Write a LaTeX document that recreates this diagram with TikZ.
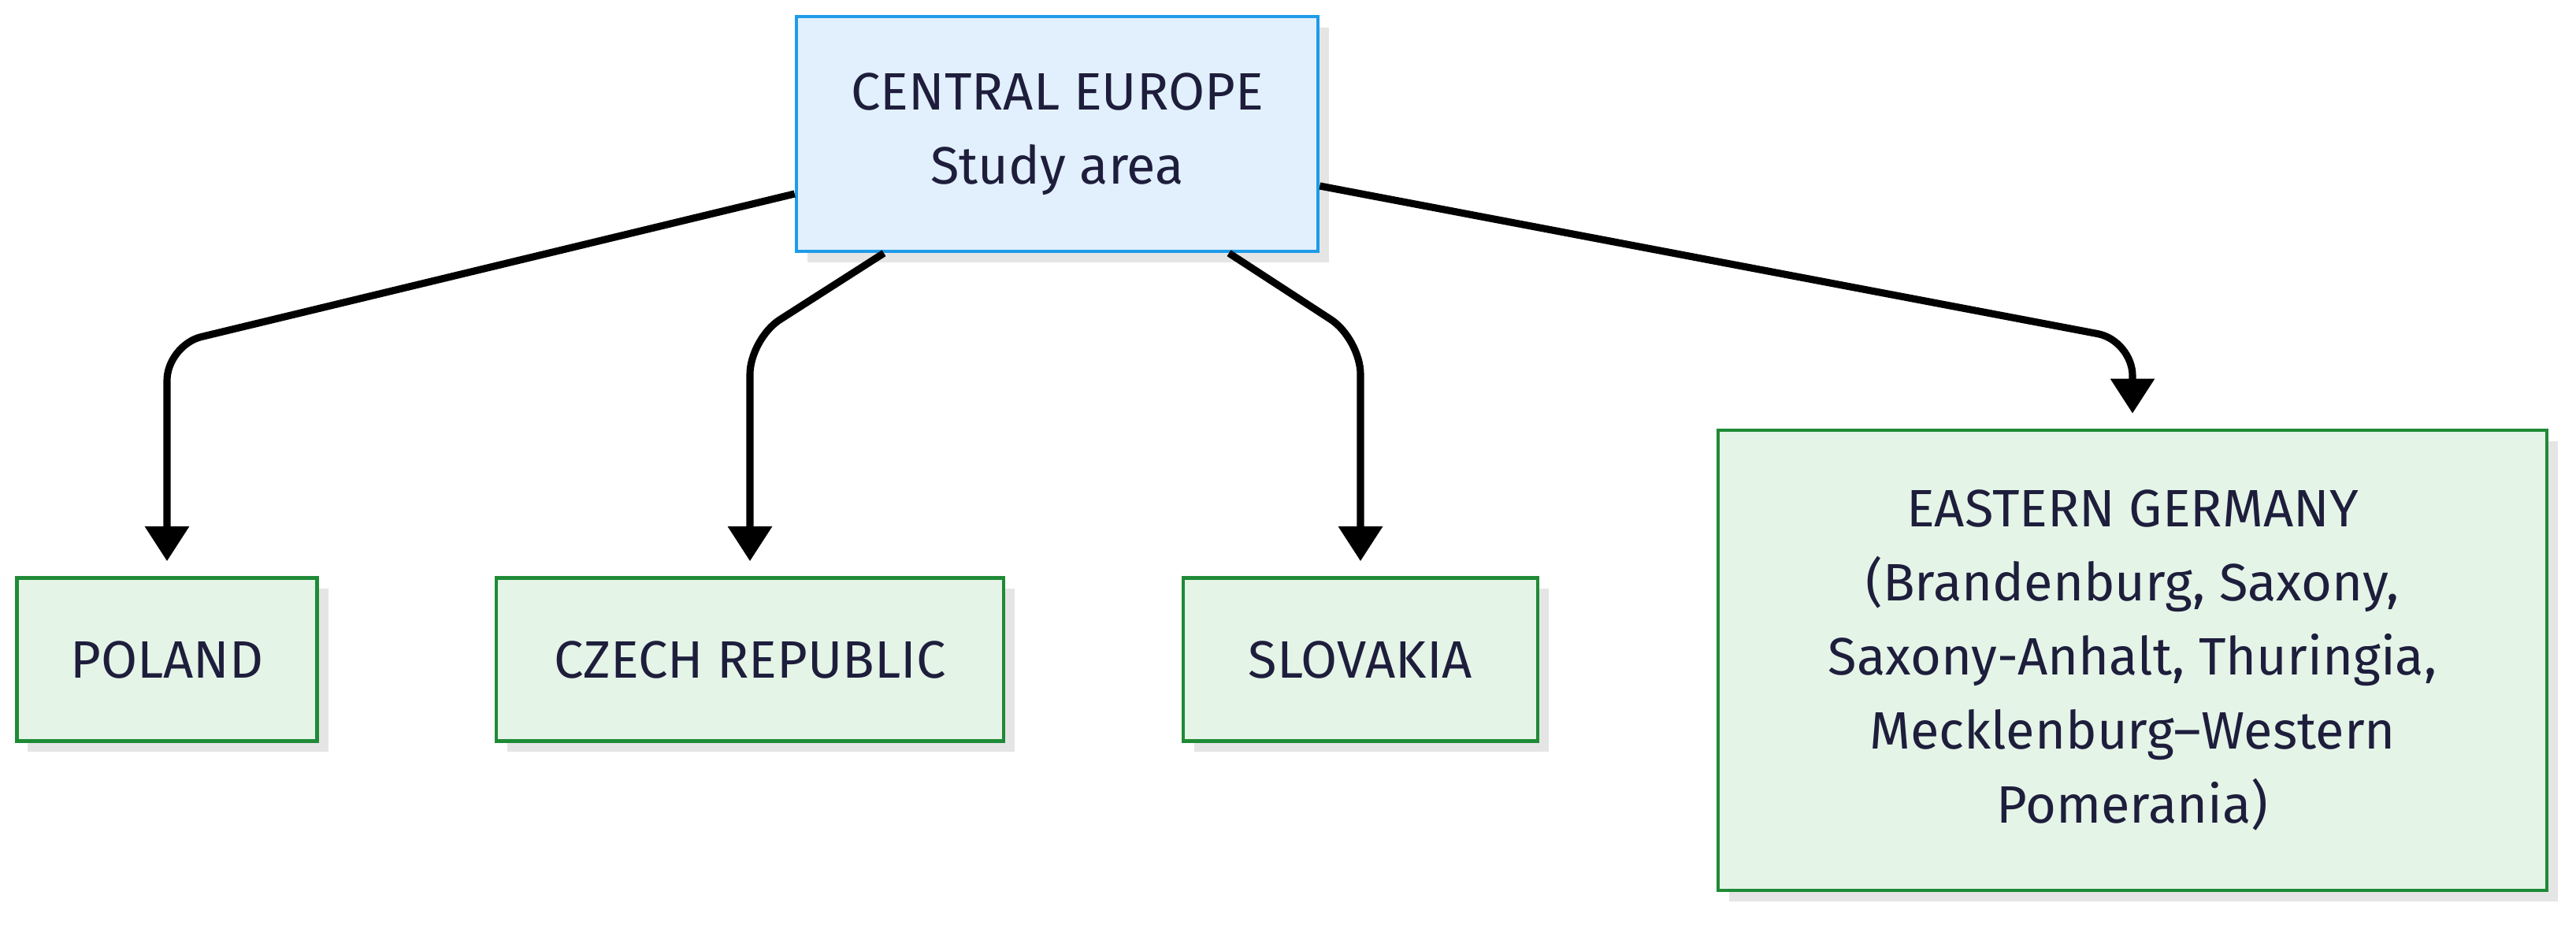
\documentclass[tikz,border=0pt]{standalone}
\usepackage{fontspec}
\setmainfont{Fira Sans}
\usepackage{xcolor}
\usetikzlibrary{arrows.meta,shadows}
\definecolor{areafill}{HTML}{E1F0FC}
\definecolor{arealine}{HTML}{1E9BE9}
\definecolor{landfill}{HTML}{E4F4E7}
\definecolor{landline}{HTML}{1F8A36}
\definecolor{inkcol}{HTML}{1E1E3C}
\tikzset{
  box/.style={draw,line width=1.3pt,align=center,text=inkcol,
    font=\fontsize{19}{26.7}\selectfont,
    drop shadow={shadow xshift=0.14cm,shadow yshift=-0.14cm,fill=black!10,opacity=1}},
  area/.style={box,fill=areafill,draw=arealine},
  land/.style={box,fill=landfill,draw=landline},
  link/.style={line width=2.6pt,rounded corners=0.45cm,shorten >=0.19cm,
    -{Triangle[width=0.54cm,length=0.44cm]}}
}
\begin{document}
\begin{tikzpicture}[scale=1]
        \useasboundingbox (0,0) rectangle (32.70,-11.79);

        %study area on top
        \node[area,minimum width=6.62cm,minimum height=2.98cm] (centre) at (13.42,-1.70)
        {CENTRAL EUROPE\\Study area};

        %the four countries
        \node[land,minimum width=3.81cm,minimum height=2.07cm] (poland) at (2.12,-8.37) {POLAND};
        \node[land,minimum width=6.44cm,minimum height=2.07cm] (czech) at (9.52,-8.37) {CZECH REPUBLIC};
        \node[land,minimum width=4.50cm,minimum height=2.07cm] (slovakia) at (17.27,-8.37) {SLOVAKIA};
        \node[land,minimum width=10.52cm,minimum height=5.84cm] (eastde) at (27.07,-8.38)
        {EASTERN GERMANY\\(Brandenburg, Saxony,\\Saxony-Anhalt, Thuringia,\\Mecklenburg–Western\\Pomerania)};

        %bends of the connectors
        \coordinate (bendpl) at (2.12,-4.38);
        \coordinate (bendcz) at (9.52,-4.30);
        \coordinate (bendsk) at (17.27,-4.30);
        \coordinate (bendde) at (27.07,-4.32);

        \draw[link] ([yshift=-0.76cm]centre.west) -- (bendpl) -- (poland);
        \draw[link] ([xshift=-2.20cm]centre.south) -- (bendcz) -- (czech);
        \draw[link] ([xshift=2.18cm]centre.south) -- (bendsk) -- (slovakia);
        \draw[link] ([yshift=-0.66cm]centre.east) -- (bendde) -- (eastde);
        \end{tikzpicture}
\end{document}
